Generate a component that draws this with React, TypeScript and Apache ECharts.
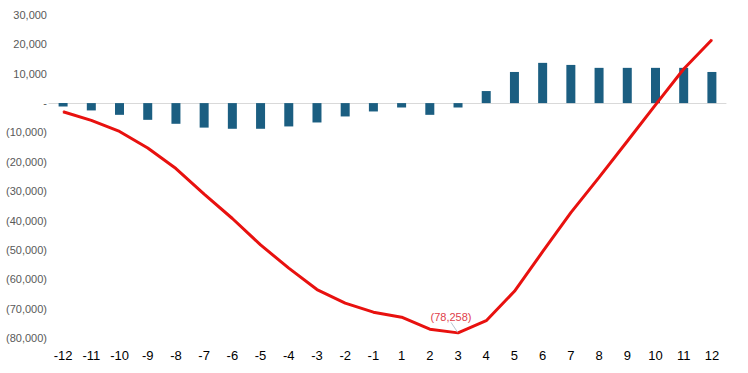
import React, { useEffect, useRef } from "react";
import * as echarts from "echarts";

const categories = ["-12","-11","-10","-9","-8","-7","-6","-5","-4","-3","-2","-1","1","2","3","4","5","6","7","8","9","10","11","12"];
const barValues = [-1150,-2500,-4000,-5700,-7050,-8350,-8750,-8750,-7950,-6600,-4550,-2850,-1500,-4000,-1500,4100,10600,13700,13000,12000,12000,12000,12000,10600];
const lineValues = [-2960,-5900,-9650,-15300,-22300,-31000,-39300,-48300,-56200,-63500,-68100,-71200,-72900,-77000,-78258,-74100,-64100,-50600,-37300,-25300,-13000,-600,11600,21600];
const annotIndex = 14;
const annotText = "(78,258)";

function fmt(v: number): string {
  if (v === 0) return "-";
  const s = Math.abs(v).toLocaleString("en-US");
  return v < 0 ? `(${s})` : s;
}

export default function App() {
  const ref = useRef<HTMLDivElement>(null);
  useEffect(() => {
    if (!ref.current) return;
    const chart = echarts.init(ref.current, null, { renderer: "svg" });
    chart.setOption({
      animation: false,
      backgroundColor: "#ffffff",
      textStyle: { fontFamily: "Liberation Sans, Arial, sans-serif" },
      grid: { left: 49, right: 22, top: 15, bottom: 35, containLabel: false },
      xAxis: [
        {
          type: "category",
          data: categories,
          position: "bottom",
          axisLine: { show: false, onZero: false },
          axisTick: { show: false },
          axisLabel: { color: "#000000", fontSize: 13, margin: 11, interval: 0 },
        },
        {
          type: "category",
          data: categories,
          position: "bottom",
          axisLine: { show: true, onZero: true, lineStyle: { color: "#D9D9D9", width: 1 } },
          axisTick: { show: false },
          axisLabel: { show: false },
        },
      ],
      yAxis: {
        type: "value",
        min: -80000,
        max: 30000,
        interval: 10000,
        axisLine: { show: false },
        axisTick: { show: false },
        splitLine: { show: false },
        axisLabel: { color: "#595959", fontSize: 11, margin: 2, formatter: fmt },
      },
      series: [
        {
          type: "bar",
          xAxisIndex: 0,
          data: barValues,
          barWidth: 9,
          itemStyle: { color: "#1B5E81" },
        },
        {
          type: "line",
          xAxisIndex: 0,
          data: lineValues.map((v, i) =>
            i === annotIndex
              ? {
                  value: v,
                  label: {
                    show: true,
                    position: "top",
                    distance: 4,
                    formatter: annotText,
                    color: "#E0404A",
                    fontSize: 11,
                  },
                  labelLine: { show: true, lineStyle: { color: "#B8C4D0", width: 1 } },
                }
              : v
          ),
          symbol: "circle",
          symbolSize: 1,
          showSymbol: true,
          showAllSymbol: true,
          itemStyle: { color: "#E8110F" },
          lineStyle: { color: "#E8110F", width: 3 },
          labelLayout: (params: any) =>
            params.dataIndex === annotIndex ? { dx: -7, dy: -6 } : {},
          z: 5,
        },
      ],
    });
    return () => chart.dispose();
  }, []);
  return <div ref={ref} style={{ width: 748, height: 373, position: "absolute", left: 0, top: 0 }} />;
}
